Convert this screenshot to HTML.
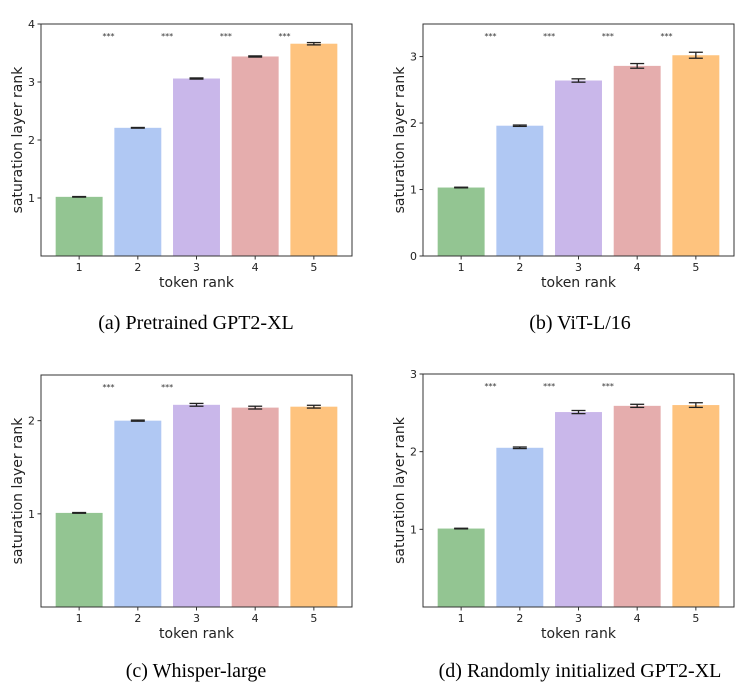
<!DOCTYPE html>
<html><head><meta charset="utf-8"><style>
body{margin:0;background:#fff;}
svg{display:block;font-family:"DejaVu Sans","Liberation Sans",sans-serif;}
.cap{font-family:"Liberation Serif",serif;font-size:20px;fill:#000;}
</style></head><body>
<svg id="fig" width="745" height="684" viewBox="0 0 745 684"></svg>
<script>
const categories = ["1","2","3","4","5"];
const valuesA = [1.02, 2.21, 3.06, 3.44, 3.66];
const errA = [0.005, 0.006, 0.01, 0.01, 0.02];
const valuesB = [1.03, 1.96, 2.64, 2.86, 3.02];
const errB = [0.005, 0.01, 0.025, 0.035, 0.045];
const valuesC = [1.01, 2.0, 2.17, 2.14, 2.15];
const errC = [0.004, 0.006, 0.015, 0.015, 0.015];
const valuesD = [1.01, 2.05, 2.51, 2.59, 2.60];
const errD = [0.004, 0.01, 0.02, 0.02, 0.03];
const ticksA = [1,2,3,4];
const ticksB = [0,1,2,3];
const ticksC = [1,2];
const ticksD = [1,2,3];
const starsA = [1,2,3,4];
const starsB = [1,2,3,4];
const starsC = [1,2];
const starsD = [1,2,3];
const colors = ["#93c592","#b0c8f3","#c9b7ea","#e5adad","#fec37e"];
const NS="http://www.w3.org/2000/svg";
const svg=document.getElementById('fig');
function mk(tag,attrs,parent){const e=document.createElementNS(NS,tag);for(const k in attrs)e.setAttribute(k,attrs[k]);(parent||svg).appendChild(e);return e;}
function panel(key,L,R,T,B,ymax,vals,errs,ticks,stars,caption,cx,cy){
  const g=mk('g',{});
  
  
  const y=v=>B-(v/ymax)*(B-T);
  const step=(R-L)/5.3;
  const x=i=>L+step*(0.65+i);
  const bw=step*0.8;
  vals.forEach((v,i)=>{
    const r=mk('rect',{x:x(i)-bw/2,y:y(v),width:bw,height:B-y(v),fill:colors[i]},g);
    
    
    const e=errs[i],cap=7;
    const eg=mk('g',{stroke:'#222','stroke-width':1.3},g);
    
    
    mk('line',{x1:x(i),x2:x(i),y1:y(v+e),y2:y(v-e)},eg);
    mk('line',{x1:x(i)-cap,x2:x(i)+cap,y1:y(v+e),y2:y(v+e)},eg);
    mk('line',{x1:x(i)-cap,x2:x(i)+cap,y1:y(v-e),y2:y(v-e)},eg);
    const t=mk('text',{x:x(i),y:B+15,'font-size':11,'text-anchor':'middle',fill:'#222'},g);
    t.textContent=categories[i];
    
    
    mk('line',{x1:x(i),x2:x(i),y1:B,y2:B+3.5,stroke:'#333'},g);
  });
  stars.forEach(s=>{
    const t=mk('text',{x:(x(s-1)+x(s))/2,y:T+15,'font-size':8,'text-anchor':'middle',fill:'#333'},g);
    t.textContent='***';
    
    
  });
  ticks.forEach(v=>{
    mk('line',{x1:L-3.5,x2:L,y1:y(v),y2:y(v),stroke:'#333'},g);
    const t=mk('text',{x:L-6,y:y(v)+4,'font-size':11,'text-anchor':'end',fill:'#222'},g);
    t.textContent=String(v);
    
    
  });
  const fr=mk('rect',{x:L,y:T,width:R-L,height:B-T,fill:'none',stroke:'#333','stroke-width':1},g);
  
  
  const xl=mk('text',{x:(L+R)/2,y:B+31,'font-size':14,'text-anchor':'middle',fill:'#222'},g);
  xl.textContent='token rank';
  
  
  const yl=mk('text',{x:0,y:0,'font-size':14,'text-anchor':'middle',fill:'#222',transform:`translate(${L-19},${(T+B)/2}) rotate(-90)`},g);
  yl.textContent='saturation layer rank';
  
  
  const c=mk('text',{x:cx,y:cy,'text-anchor':'middle',class:'cap'},g);
  c.textContent=caption;
  
  
}
panel('a',41,352,24,256,4,valuesA,errA,ticksA,starsA,'(a) Pretrained GPT2-XL',196,329);
panel('b',423,734,24,256,3.49,valuesB,errB,ticksB,starsB,'(b) ViT-L/16',580,329);
panel('c',41,352,375,607,2.49,valuesC,errC,ticksC,starsC,'(c) Whisper-large',196,677);
panel('d',423,734,374,607,3,valuesD,errD,ticksD,starsD,'(d) Randomly initialized GPT2-XL',580,677);
</script>
</body></html>
